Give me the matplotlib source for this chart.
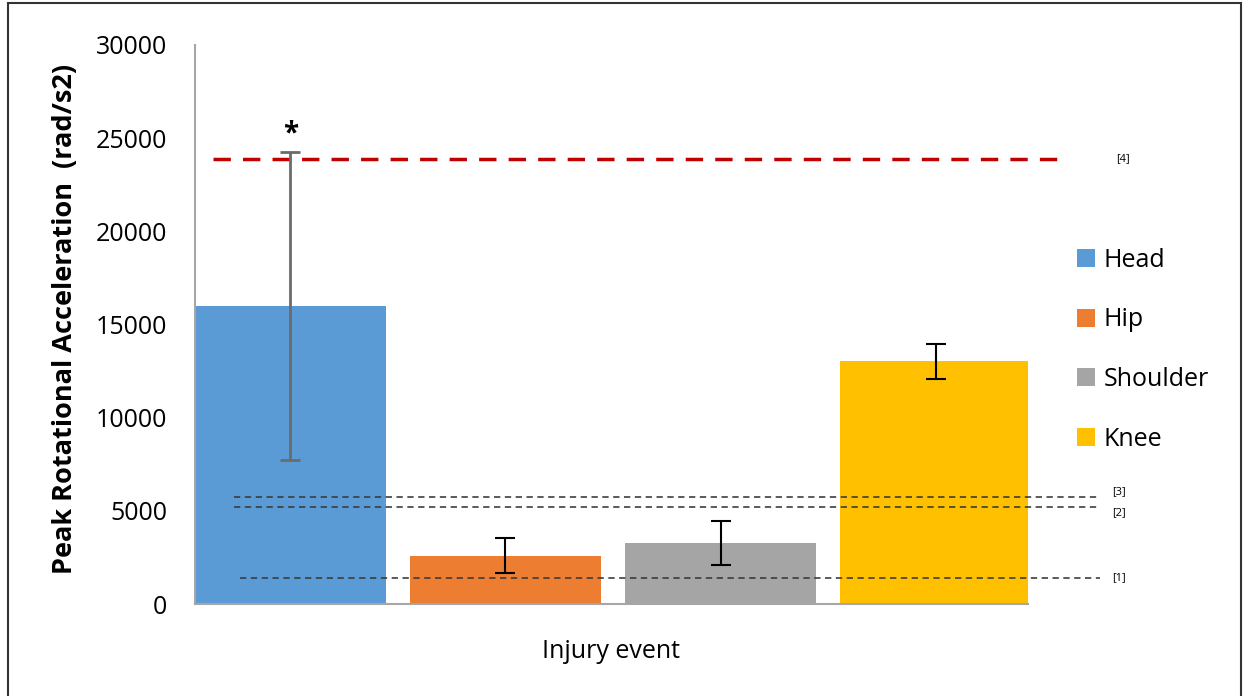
import matplotlib.pyplot as plt
from matplotlib.patches import Rectangle, Patch

plt.rcParams['font.family'] = ['Open Sans', 'DejaVu Sans']

# peak rotational acceleration per injury event (rad/s2)
events = ["Head", "Hip", "Shoulder", "Knee"]
means = [16000, 2600, 3270, 13020]
errors = [8250, 920, 1180, 930]
colors = ["#5B9BD5", "#ED7D31", "#A5A5A5", "#FFC000"]

# reference thresholds from the literature
thresholds = [1400, 5200, 5740, 23900]
threshold_labels = ["[1]", "[2]", "[3]", "[4]"]

fig = plt.figure(figsize=(12.43, 6.96), dpi=100)
W, H = 1243, 696
ax = fig.add_axes([195 / W, 1 - 604 / H, (1028 - 195) / W, (604 - 45) / H])

x = range(len(events))
ax.bar(x, means, width=0.89, color=colors, zorder=2)

# head error bar is grey, the rest black
ax.errorbar(0, means[0], yerr=errors[0], fmt="none", ecolor="#6b6b6b",
            elinewidth=2, capsize=7, capthick=2, zorder=4)
ax.errorbar(list(x)[1:], means[1:], yerr=errors[1:], fmt="none", ecolor="black",
            elinewidth=1.5, capsize=7, capthick=1.5, zorder=4)
ax.text(0, means[0] + errors[0] + 1000, "*", ha="center", va="center",
        fontsize=20, fontweight="bold")

# threshold lines, labels nudged so [2] and [3] don't collide
starts = [-0.235, -0.263, -0.263, -0.36]
ends = [3.765, 3.765, 3.765, 3.59]
label_x = [3.82, 3.82, 3.82, 3.84]
nudge = [0, -4, 4, 0]
for y, x0, x1, lx, dy, lab in zip(thresholds, starts, ends, label_x, nudge,
                                  threshold_labels):
    if lab == "[4]":
        ax.plot([x0, x1], [y, y], color="#C00000", lw=2.5, dashes=(5, 3.5),
                clip_on=False, zorder=3)
    else:
        ax.plot([x0, x1], [y, y], color="#3a3a3a", lw=1.3, dashes=(3.5, 2.5),
                clip_on=False, zorder=3, alpha=0.9)
    ax.annotate(lab, (lx, y), xytext=(0, dy), textcoords="offset points",
                fontsize=8, va="center", ha="left", annotation_clip=False)

ax.set_xlim(-0.444, 3.43)
ax.set_ylim(0, 30000)
ax.set_yticks(range(0, 30001, 5000))
ax.set_xticks([])
ax.tick_params(axis="y", length=0, labelsize=18, pad=20)
for s in ["top", "right"]:
    ax.spines[s].set_visible(False)
ax.spines["left"].set_color("#a6a6a6")
ax.spines["bottom"].set_color("#a6a6a6")
ax.spines["left"].set_linewidth(1.5)
ax.spines["bottom"].set_linewidth(1.5)

ax.set_ylabel("Peak Rotational Acceleration  (rad/s2)", fontsize=19.5,
              fontweight="bold")
ax.yaxis.set_label_coords(-0.141, 0.51)
ax.set_xlabel("Injury event", fontsize=18, labelpad=25)

handles = [Patch(facecolor=c, label=e) for e, c in zip(events, colors)]
fig.legend(handles=handles, loc="upper left", bbox_to_anchor=(1067 / W, 1 - 238 / H),
           frameon=False, fontsize=18, handlelength=0.72, handleheight=0.72,
           handletextpad=0.35, labelspacing=1.38, borderaxespad=0)

# outer frame
fig.patches.append(Rectangle((8 / W, -0.01), (1233 / W), 1 - 3 / H + 0.01,
                             transform=fig.transFigure, fill=False,
                             edgecolor="#333333", lw=1.5))

fig.savefig("out.png", dpi=100)
